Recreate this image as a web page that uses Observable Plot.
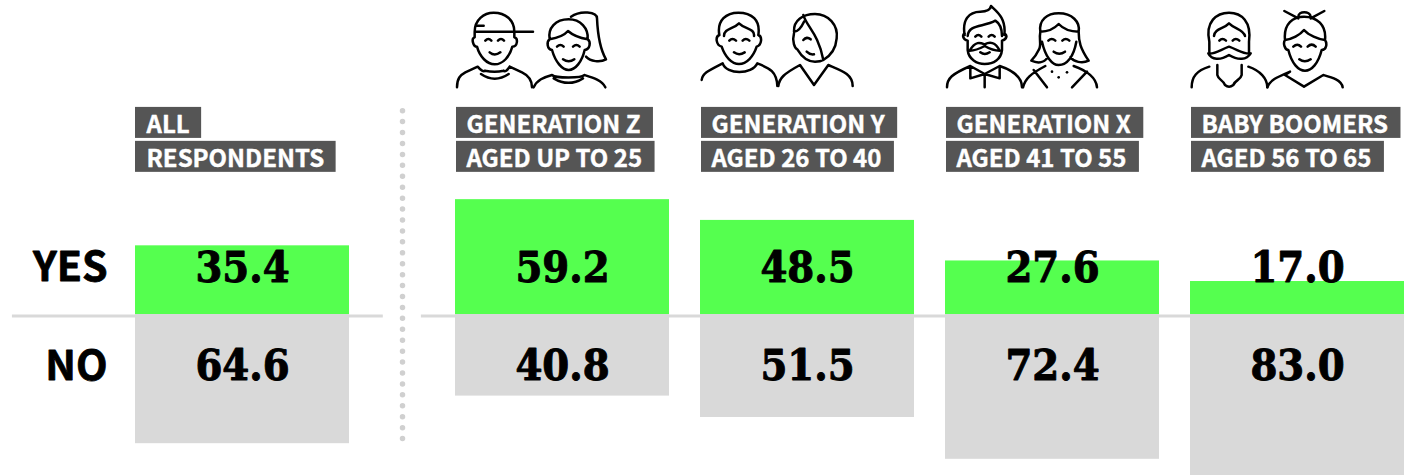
<!DOCTYPE html>
<html><head><meta charset="utf-8">
<style>html,body{margin:0;padding:0;background:#fff}svg{display:block}</style>
<script src="https://cdn.jsdelivr.net/npm/d3@7"></script>
<script src="https://cdn.jsdelivr.net/npm/@observablehq/plot@0.6"></script>
</head><body><script>
const columns = [0, 1, 2, 3, 4];
const yesValues = [35.4, 59.2, 48.5, 27.6, 17.0];
const noValues = [64.6, 40.8, 51.5, 72.4, 83.0];
const headerLine1 = ["ALL", "GENERATION Z", "GENERATION Y", "GENERATION X", "BABY BOOMERS"];
const headerLine2 = ["RESPONDENTS", "AGED UP TO 25", "AGED 26 TO 40", "AGED 41 TO 55", "AGED 56 TO 65"];
const rowLabels = ["YES", "NO"];

const sans = "'Noto Sans CJK SC'";
const headFont = `700 24px ${sans}`;
const ctx = document.createElement("canvas").getContext("2d");
ctx.font = headFont;
const boxes = (labels, yPos) => labels.map((t, i) => {
  const w = ctx.measureText(t).width + 23;
  const left = i === 0 ? -107 : -106;
  return Plot.rect([i], {x1: d => d, x2: d => d, y1: () => yPos, y2: () => yPos, fill: "#555",
    insetLeft: left, insetRight: -left - w, insetTop: -16, insetBottom: -15});
});

const iconPaths = {
 1: {off: 47, man: `M103 95H278M108 77H130M103 95C103 60 130 38 160 38C195 38 222 60 222 95V112C234 115 232 140 216 140C208 170 188 193 163 193C140 193 118 170 110 140C98 140 92 115 103 112V95
   M135 122Q144 112 153 122M173 122Q182 112 191 122M148 157Q163 170 180 157
   M50 262C50 235 60 225 75 217L112 200C122 212 130 216 134 212M208 200C200 212 194 216 190 212M134 212Q163 218 190 212M122 222Q163 250 205 222M208 200L245 217C262 225 275 240 275 262`,
   woman: `M328 118C322 85 345 58 385 58C420 58 445 85 442 118M328 118C345 115 370 108 383 93C400 108 425 115 442 118C452 125 450 148 433 150C425 185 405 210 385 210C365 210 345 185 335 150C320 148 318 125 328 118
   M392 50C420 30 470 35 470 55C472 100 478 145 497 178C480 188 450 185 437 170M350 140Q360 130 370 140M398 140Q408 130 418 140M368 178Q385 190 402 178
   M280 262C290 240 310 232 335 225C345 235 425 235 432 225C455 232 485 240 495 262M340 235Q385 262 428 235`},
 2: {off: 783, man: `M838 105C830 60 860 38 895 38C935 38 962 60 955 105M852 108C852 85 880 88 897 70C915 88 945 85 942 108M838 105C825 110 828 135 845 140C855 170 875 192 897 192C920 192 940 170 950 140C965 135 968 110 955 105
   M868 122Q877 112 888 122M908 122Q917 112 928 122M882 157Q897 168 914 157
   M785 240C787 220 805 212 848 190C860 225 935 225 952 190C990 205 1010 215 1012 258`,
   woman: `M1062 95C1060 60 1090 42 1125 42C1165 42 1195 75 1190 115C1188 140 1175 165 1150 180M1090 45C1100 80 1135 100 1150 180M1062 95C1075 95 1085 80 1092 65M1062 100C1055 125 1065 145 1072 148C1085 170 1105 185 1125 185C1135 185 1145 183 1150 180
   M1090 120Q1100 108 1112 118M1100 155Q1110 165 1122 163M1015 258C1018 235 1030 222 1080 195L1122 255L1165 195C1205 212 1238 222 1238 258`},
 3: {off: 47, man: `M103 105C95 60 115 35 150 35C165 35 180 30 182 18C200 35 228 55 222 105M112 108C115 72 160 82 195 62C208 70 215 85 215 108M103 100C95 105 97 118 112 122M222 100C232 105 230 118 215 122M112 122V150C115 178 140 192 163 192C190 192 212 178 215 150V122
   M135 110Q144 100 153 110M175 110Q184 100 193 110M118 152C135 122 150 128 163 133C178 125 195 125 208 152C190 152 175 145 163 138C150 145 135 152 118 152M150 157Q163 167 178 157
   M50 262C50 235 65 222 120 198M120 198L163 222L208 198V235L163 222L120 235ZM163 222V262M208 198C250 212 275 235 275 262`,
   woman: `M330 95C325 60 350 40 385 40C425 40 450 65 445 95M330 95C350 95 370 88 385 72C400 88 425 95 445 95M330 95C325 120 335 135 325 150C318 165 310 175 303 182C320 190 340 190 352 172M445 95C445 125 450 145 475 182C455 192 430 185 420 172M335 125C345 170 365 195 385 195C410 195 430 170 438 125
   M354 122Q364 112 375 122M396 122Q406 112 417 122M370 155Q387 167 404 155M278 262C285 235 300 222 345 198M430 198C470 212 498 235 500 262M310 210L350 262M470 215L425 262`,
   dots: [[365,215],[385,232],[410,217]]},
 4: {off: 783, man: `M838 125C825 65 860 38 897 38C935 38 965 65 957 125V155M838 125V155M852 108C855 85 880 88 897 70C915 88 940 88 945 108
   M868 122Q877 112 888 122M908 122Q917 112 928 122M835 160C850 165 870 150 897 140C925 150 945 165 962 160C950 180 925 182 897 165C870 182 845 180 835 160
   M785 262C785 230 800 212 838 200M955 200C990 212 1012 235 1012 262M862 195V225C865 240 880 240 885 255Q897 265 910 255C915 240 932 240 935 225V195`,
   woman: `M1105 50C1105 32 1140 32 1142 50M1063 33L1105 55M1183 33L1142 55M1065 120C1060 70 1090 50 1122 50C1160 50 1190 75 1185 120M1065 120C1085 118 1110 105 1122 90C1135 105 1165 118 1185 120C1192 130 1190 150 1175 150C1165 190 1145 212 1125 212C1105 212 1085 190 1075 150C1065 150 1058 130 1065 120
   M1090 140Q1102 128 1113 140M1133 140Q1145 128 1157 140M1108 178Q1124 190 1142 178M1012 262C1020 240 1040 232 1080 215L1065 225L1122 260L1180 225C1205 232 1235 240 1238 262`}
};
const iconMark = (index, scales) => {
  const g = d3.create("svg:g").attr("fill", "none").attr("stroke", "#000").attr("stroke-width", 7.5)
    .attr("stroke-linecap", "round").attr("stroke-linejoin", "round");
  for (const [col, ic] of Object.entries(iconPaths)) {
    const s = g.append("g").attr("transform", `translate(${scales.x(+col) - 106},0) scale(${1/3}) translate(${-ic.off},0)`);
    s.append("path").attr("d", ic.man);
    s.append("path").attr("d", ic.woman);
    for (const [cx, cy] of ic.dots || []) s.append("circle").attr("cx", cx).attr("cy", cy).attr("r", 4).attr("fill", "#000").attr("stroke", "none");
  }
  return g.node();
};

const barOpts = {x1: "c", x2: "c", y1: 0, insetLeft: -107, insetRight: -107};
const yes = columns.map((c, i) => ({c, v: yesValues[i]}));
const no = columns.map((c, i) => ({c, v: -noValues[i]}));
const serif = {fontFamily: "'DejaVu Serif Condensed','DejaVu Serif'", fontWeight: 700, fontSize: 43, fill: "#000", stroke: "#000", strokeWidth: 0.9, textAnchor: "middle", lineAnchor: "middle", dy: 2};
const headText = {fontFamily: sans, fontWeight: 700, fontSize: 24, fill: "#fff", stroke: "#fff", strokeWidth: 0.4, textAnchor: "start", lineAnchor: "middle", dy: 2};

const chart = Plot.plot({
  width: 1408, height: 475, margin: 0,
  style: {background: "#fff"},
  x: {type: "linear", domain: [-1, 0, 1, 5], range: [-78, 242, 562, 1542], axis: null},
  y: {type: "linear", domain: [-100, 0, 100], range: [514, 314, 120], axis: null},
  marks: [
    Plot.ruleY([[-0.719, 0.44], [0.559, 4.437]], {x1: d => d[0], x2: d => d[1], y: () => 0, dy: 1.5, stroke: "#d9d9d9", strokeWidth: 3}),
    Plot.ruleX([0.5], {y1: 104.8, y2: -63, stroke: "#d0d0d0", strokeWidth: 5.5, strokeDasharray: "0 10.93", strokeLinecap: "round"}),
    Plot.rect(yes, {...barOpts, y2: "v", fill: "#55ff4f"}),
    Plot.rect(no, {...barOpts, y2: "v", fill: "#d9d9d9"}),
    ...boxes(headerLine1, 98.5),
    ...boxes(headerLine2, 81),
    Plot.text(headerLine1, {...headText, x: (d, i) => columns[i], y: () => 98.5, text: d => d, dx: -96}),
    Plot.text(headerLine2, {...headText, x: (d, i) => columns[i], y: () => 81, text: d => d, dx: -96}),
    Plot.text(yes, {...serif, x: "c", y: () => 25, text: d => d.v.toFixed(1)}),
    Plot.text(no, {...serif, x: "c", y: () => -25, text: d => (-d.v).toFixed(1)}),
    Plot.text(rowLabels, {x: () => 0, y: (d, i) => i ? -25 : 25, text: d => d, dx: -135, dy: 2, textAnchor: "end", lineAnchor: "middle",
      fontFamily: sans, fontWeight: 700, fontSize: 41, fill: "#000", stroke: "#000", strokeWidth: 0.8}),
    iconMark
  ]
});
document.body.append(chart);
</script></body></html>
